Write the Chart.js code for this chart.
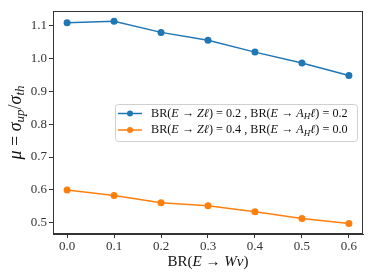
<!DOCTYPE html>
<html>
<head>
<meta charset="utf-8">
<script src="https://cdn.jsdelivr.net/npm/chart.js@4"></script>
<style>
  html, body { margin: 0; padding: 0; background: #fff; }
  canvas { display: block; }
</style>
</head>
<body>
<canvas id="muChart" width="374" height="280"></canvas>
<script>
// values
var brW = [0.0, 0.1, 0.2, 0.3, 0.4, 0.5, 0.6];
var muA = [1.108, 1.113, 1.079, 1.055, 1.019, 0.986, 0.948];
var muB = [0.600, 0.583, 0.561, 0.552, 0.534, 0.513, 0.498];
var xTicks = [0.0, 0.1, 0.2, 0.3, 0.4, 0.5, 0.6];
var yTicks = [0.5, 0.6, 0.7, 0.8, 0.9, 1.0, 1.1];
var seriesLabels = [
  [['BR(', 'r'], ['E', 'i'], [' → ', 'r'], ['Zℓ', 'i'], [') = 0.2 , BR(', 'r'], ['E', 'i'], [' → ', 'r'], ['A', 'i'], ['H', 's'], ['ℓ', 'i'], [') = 0.2', 'r']],
  [['BR(', 'r'], ['E', 'i'], [' → ', 'r'], ['Zℓ', 'i'], [') = 0.4 , BR(', 'r'], ['E', 'i'], [' → ', 'r'], ['A', 'i'], ['H', 's'], ['ℓ', 'i'], [') = 0.0', 'r']]
];
var xTitle = [['BR(', 'r'], ['E', 'i'], [' → ', 'r'], ['Wν', 'i'], [')', 'r']];
var yTitle = [['μ', 'i'], [' = ', 'r'], ['σ', 'i'], ['up', 's'], ['/', 'r'], ['σ', 'i'], ['th', 's']];

var colors = ['#1f77b4', '#ff7f0e'];
var SERIF = '"Liberation Serif", "DejaVu Serif", serif';

function toPoints(xs, ys) {
  var pts = [];
  for (var i = 0; i < xs.length; i++) pts.push({x: xs[i], y: ys[i]});
  return pts;
}

// draws a run of roman / italic / subscript pieces
function segFont(kind, size) {
  if (kind == 'i') return 'italic ' + size + 'px ' + SERIF;
  if (kind == 's') return 'italic ' + Math.round(size * 0.7) + 'px ' + SERIF;
  return size + 'px ' + SERIF;
}
function richWidth(ctx, segs, size) {
  var w = 0;
  for (let s of segs) {
    ctx.font = segFont(s[1], size);
    w += ctx.measureText(s[0]).width;
  }
  return w;
}
function drawRich(ctx, segs, x, y, size, align) {
  var w = richWidth(ctx, segs, size);
  var cx = align == 'center' ? x - w / 2 : x;
  ctx.textBaseline = 'middle';
  ctx.textAlign = 'left';
  for (let s of segs) {
    ctx.font = segFont(s[1], size);
    var dy = s[1] == 's' ? size * 0.28 : 0;
    ctx.fillText(s[0], cx, y + dy);
    cx += ctx.measureText(s[0]).width;
  }
}

var decor = {
  id: 'decor',
  afterDraw: function(chart) {
    var ctx = chart.ctx;
    var a = chart.chartArea;
    ctx.save();
    // frame on all four sides
    ctx.strokeStyle = '#333';
    ctx.lineWidth = 1;
    ctx.strokeRect(a.left + 0.5, a.top + 0.5, a.right - a.left - 1, a.bottom - a.top - 1);

    // axis titles
    ctx.fillStyle = '#111';
    drawRich(ctx, xTitle, (a.left + a.right) / 2, 262, 15, 'center');
    ctx.save();
    ctx.translate(16, (a.top + a.bottom) / 2);
    ctx.rotate(-Math.PI / 2);
    drawRich(ctx, yTitle, 0, 0, 18, 'center');
    ctx.restore();

    // legend inside the plot
    var lx = 115, ly = 104, lw = 242, lh = 37;
    ctx.beginPath();
    ctx.roundRect(lx + 0.5, ly + 0.5, lw, lh, 3);
    ctx.fillStyle = 'rgba(255,255,255,0.85)';
    ctx.fill();
    ctx.strokeStyle = '#d0d0d0';
    ctx.stroke();
    var rows = [113.5, 130];
    for (var i = 0; i < rows.length; i++) {
      ctx.strokeStyle = colors[i];
      ctx.lineWidth = 1.5;
      ctx.beginPath();
      ctx.moveTo(118, rows[i]);
      ctx.lineTo(142, rows[i]);
      ctx.stroke();
      ctx.fillStyle = colors[i];
      ctx.beginPath();
      ctx.arc(130, rows[i], 3, 0, Math.PI * 2);
      ctx.fill();
      ctx.fillStyle = '#111';
      drawRich(ctx, seriesLabels[i], 151, rows[i], 12.2, 'left');
    }
    ctx.restore();
  }
};

new Chart(document.getElementById('muChart'), {
  type: 'line',
  data: {
    datasets: [{
      data: toPoints(brW, muA),
      borderColor: colors[0],
      backgroundColor: colors[0],
      borderWidth: 1.5,
      pointRadius: 3.5,
      pointBorderWidth: 0
    }, {
      data: toPoints(brW, muB),
      borderColor: colors[1],
      backgroundColor: colors[1],
      borderWidth: 1.5,
      pointRadius: 3.5,
      pointBorderWidth: 0
    }]
  },
  options: {
    responsive: false,
    animation: false,
    devicePixelRatio: 1,
    layout: { padding: { left: 22, right: 11, top: 11, bottom: 26 } },
    plugins: { legend: { display: false }, tooltip: { enabled: false } },
    scales: {
      x: {
        type: 'linear',
        min: -0.03,
        max: 0.63,
        afterBuildTicks: function(scale) {
          scale.ticks = xTicks.map(function(v) { return {value: v}; });
        },
        afterFit: function(scale) { scale.height = 20; },
        grid: { drawOnChartArea: false, drawTicks: true, tickLength: 4, color: '#333' },
        border: { color: '#333' },
        ticks: {
          padding: 1,
          color: '#333',
          font: { family: SERIF, size: 13 },
          maxRotation: 0,
          callback: function(v) { return v.toFixed(1); }
        }
      },
      y: {
        min: 0.466,
        max: 1.144,
        afterBuildTicks: function(scale) {
          scale.ticks = yTicks.map(function(v) { return {value: v}; });
        },
        afterFit: function(scale) { scale.width = 31; },
        grid: { drawOnChartArea: false, drawTicks: true, tickLength: 4, color: '#333' },
        border: { color: '#333' },
        ticks: {
          padding: 2,
          color: '#333',
          font: { family: SERIF, size: 13 },
          callback: function(v) { return v.toFixed(1); }
        }
      }
    }
  },
  plugins: [decor]
});
</script>
</body>
</html>
